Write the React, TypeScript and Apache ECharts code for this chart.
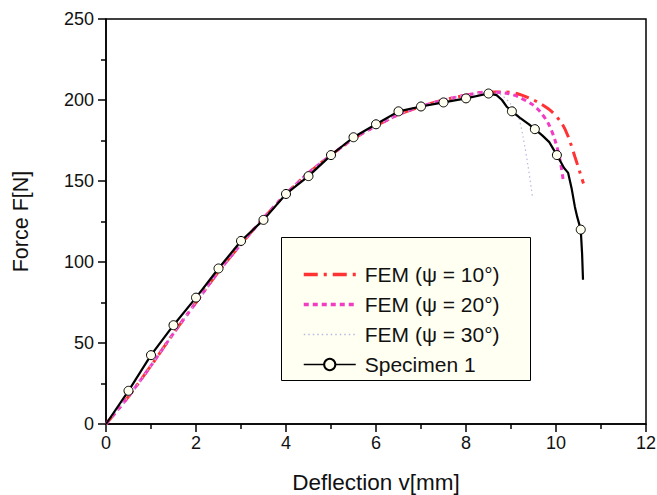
import React, { useEffect, useRef } from "react";
import * as echarts from "echarts";

const FONT = "'Liberation Sans', Arial, sans-serif";

// Specimen 1 (measured): [deflection mm, force N]; markers at marked points
const specimenX = [0, 0.5, 1.0, 1.5, 2.0, 2.5, 3.0, 3.5, 4.0, 4.5, 5.0, 5.5, 6.0, 6.5, 7.0, 7.5, 8.0, 8.5, 8.68, 8.8, 8.9, 9.02, 9.2, 9.4, 9.53, 9.7, 9.85, 10.02, 10.18, 10.27, 10.35, 10.42, 10.47, 10.55, 10.58, 10.6];
const specimenY = [0, 20.5, 42.5, 61, 78, 96, 113, 126, 142, 153, 166, 177, 185, 193, 196, 198.5, 201, 204, 203, 200, 196, 193, 189, 185, 182, 178, 174, 166, 158, 155, 145, 134, 128, 120, 105, 89];
const specimenMarked = [false, true, true, true, true, true, true, true, true, true, true, true, true, true, true, true, true, true, false, false, false, true, false, false, true, false, false, true, false, false, false, false, false, true, false, false];

// FEM psi = 10
const fem10X = [0, 0.5, 1, 1.5, 2, 2.5, 3, 3.5, 4, 4.5, 5, 5.5, 6, 6.5, 7, 7.5, 8, 8.5, 8.87, 9.13, 9.42, 9.64, 9.9, 10.13, 10.27, 10.42, 10.61];
const fem10Y = [0, 17, 36, 56, 75, 94, 111, 127, 142, 155, 166, 176, 184, 191, 196, 200, 203, 205, 205, 204, 201, 198, 193, 185.5, 177.5, 165, 148.5];
// FEM psi = 20
const fem20X = [0, 0.5, 1, 1.5, 2, 2.5, 3, 3.5, 4, 4.5, 5, 5.5, 6, 6.5, 7, 7.5, 8, 8.5, 8.93, 9.16, 9.46, 9.64, 9.83, 9.98, 10.09, 10.16];
const fem20Y = [0, 17, 36, 56, 75, 94, 111, 127, 142, 155, 166, 176, 184, 191, 196, 200, 203, 205, 204, 202, 197.5, 193, 185.5, 175, 163, 150.5];
// FEM psi = 30
const fem30X = [0, 0.5, 1, 1.5, 2, 2.5, 3, 3.5, 4, 4.5, 5, 5.5, 6, 6.5, 7, 7.5, 8, 8.5, 8.72, 9.01, 9.16, 9.27, 9.38, 9.48];
const fem30Y = [0, 17, 36, 56, 75, 94, 111, 127, 142, 155, 166, 176, 184, 191, 196, 200, 203, 204.5, 204, 197, 190, 177, 159, 139.5];

const seriesNames = ["FEM (\u03c8 = 10\u00b0)", "FEM (\u03c8 = 20\u00b0)", "FEM (\u03c8 = 30\u00b0)", "Specimen 1"];

const zip = (xs: number[], ys: number[]) => xs.map((x, i) => [x, ys[i]]);

export default function App() {
  const ref = useRef<HTMLDivElement>(null);
  useEffect(() => {
    if (!ref.current) return;
    const chart = echarts.init(ref.current, undefined, { renderer: "svg" });
    const axisCommon = {
      axisLine: { show: true, lineStyle: { color: "#000", width: 1.5 } },
      axisTick: { show: true, inside: false, length: 8, lineStyle: { color: "#000", width: 1.5 } },
      minorTick: { show: true, splitNumber: 2, length: 5, lineStyle: { color: "#000", width: 1.5 } },
      splitLine: { show: false },
    };
    const hidden = { opacity: 0, borderWidth: 0 };
    chart.setOption({
      animation: false,
      backgroundColor: "#fff",
      grid: {
        left: 106, right: 11, top: 19, bottom: 71, show: true, borderColor: "#000", borderWidth: 1.5,
        backgroundColor: "transparent", containLabel: false, outerBoundsMode: "none",
      },
      xAxis: {
        type: "value", min: 0, max: 12, interval: 2,
        name: "Deflection v[mm]", nameLocation: "middle", nameGap: 47,
        nameTextStyle: { fontFamily: FONT, fontSize: 22.5, color: "#111" },
        axisLabel: { fontFamily: FONT, fontSize: 18, color: "#111", margin: 10 },
        ...axisCommon,
      },
      yAxis: {
        type: "value", min: 0, max: 250, interval: 50,
        name: "Force F[N]", nameLocation: "middle", nameGap: 74, nameRotate: 90,
        nameTextStyle: { fontFamily: FONT, fontSize: 21.5, color: "#111" },
        axisLabel: { fontFamily: FONT, fontSize: 18, color: "#111", margin: 12 },
        ...axisCommon,
      },
      legend: {
        left: 297, top: 259, orient: "vertical", itemWidth: 52, itemHeight: 14, itemGap: 9,
        data: [
          { name: seriesNames[0], itemStyle: hidden, lineStyle: { color: "#FF3333", width: 3.5, type: [14, 6, 3, 6] } },
          { name: seriesNames[1], itemStyle: hidden, lineStyle: { color: "#F23CC4", width: 3.5, type: [5, 4] } },
          { name: seriesNames[2], itemStyle: hidden, lineStyle: { color: "#B8B8E0", width: 1.5, type: [1.5, 3] } },
          { name: seriesNames[3], lineStyle: { color: "#000", width: 1.5 } },
        ],
        textStyle: { fontFamily: FONT, fontSize: 21, color: "#111", lineHeight: 21, padding: [0, 0, 0, 4] },
      },
      graphic: [
        { type: "rect", left: 281, top: 237, shape: { width: 249, height: 143 }, style: { fill: "#FFFFF2", stroke: "#000", lineWidth: 1 }, z: 0, silent: true },
      ],
      series: [
        {
          name: seriesNames[0], type: "line", data: zip(fem10X, fem10Y), symbol: "none", smooth: 0.3, z: 3,
          lineStyle: { color: "#FF3333", width: 3, type: [14, 6, 3, 6] }, itemStyle: { color: "#FF3333" },
        },
        {
          name: seriesNames[1], type: "line", data: zip(fem20X, fem20Y), symbol: "none", smooth: 0.3, z: 3,
          lineStyle: { color: "#F23CC4", width: 3, type: [5, 4] }, itemStyle: { color: "#F23CC4" },
        },
        {
          name: seriesNames[2], type: "line", data: zip(fem30X, fem30Y), symbol: "none", smooth: 0.3, z: 3,
          lineStyle: { color: "#B8B8E0", width: 1.2, type: [1.5, 3] }, itemStyle: { color: "#B8B8E0" },
        },
        {
          name: seriesNames[3], type: "line", z: 4,
          data: specimenX.map((x, i) => (specimenMarked[i] ? { value: [x, specimenY[i]] } : { value: [x, specimenY[i]], symbol: "none" })),
          symbol: "circle", symbolSize: 9, showAllSymbol: true,
          lineStyle: { color: "#000", width: 2.2 },
          itemStyle: { color: "#FFFFF0", borderColor: "#000", borderWidth: 1 },
        },
      ],
    });
    return () => chart.dispose();
  }, []);
  return <div ref={ref} style={{ width: 657, height: 495, position: "absolute", left: 0, top: 0 }} />;
}
